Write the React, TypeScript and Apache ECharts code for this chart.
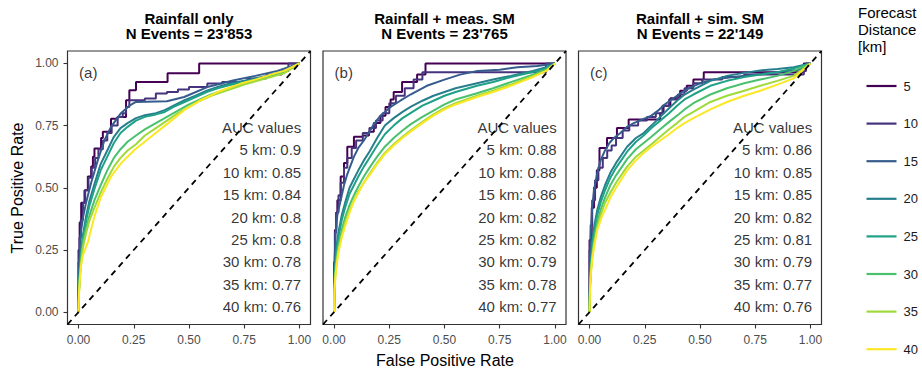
import { useEffect, useRef } from "react";
import * as echarts from "echarts";

// Forecast distances (km) and their viridis colours
const DISTANCES = ["5", "10", "15", "20", "25", "30", "35", "40"];
const COLORS = ["#440154", "#46337E", "#365C8D", "#277F8E", "#1FA187", "#4AC16D", "#9FDA3A", "#FDE725"];

const PANEL_TITLES = ["Rainfall only", "Rainfall + meas. SM", "Rainfall + sim. SM"];
const N_EVENTS = ["23'853", "23'765", "22'149"];
const PANEL_TAGS = ["(a)", "(b)", "(c)"];

const AUC_A = [0.9, 0.85, 0.84, 0.8, 0.8, 0.78, 0.77, 0.76];
const AUC_B = [0.88, 0.88, 0.86, 0.82, 0.82, 0.79, 0.78, 0.77];
const AUC_C = [0.86, 0.85, 0.85, 0.82, 0.81, 0.79, 0.77, 0.76];

const TICKS = [0, 0.25, 0.5, 0.75, 1];

// ROC curves: [false positive rate, true positive rate]
// Panel (a) – rainfall only
const rocA5 = [[0,0],[0,0.25],[0.005,0.36],[0.012,0.44],[0.027,0.49],[0.042,0.545],[0.057,0.585],[0.065,0.625],[0.072,0.658],[0.102,0.70],[0.11,0.725],[0.147,0.778],[0.176,0.785],[0.215,0.852],[0.23,0.892],[0.26,0.925],[0.403,0.961],[0.546,1],[1,1]];
const rocA10 = [[0,0],[0,0.2],[0.004,0.30],[0.01,0.37],[0.02,0.44],[0.03,0.49],[0.045,0.54],[0.06,0.58],[0.075,0.62],[0.09,0.655],[0.11,0.69],[0.13,0.72],[0.15,0.75],[0.177,0.785],[0.20,0.80],[0.215,0.825],[0.23,0.852],[0.30,0.859],[0.35,0.879],[0.40,0.885],[0.45,0.895],[0.50,0.905],[0.583,0.919],[0.65,0.925],[0.764,0.939],[0.85,0.955],[0.92,0.97],[0.95,1],[1,1]];
const rocA15 = [[0,0],[0.002,0.18],[0.006,0.27],[0.012,0.33],[0.02,0.38],[0.034,0.44],[0.057,0.52],[0.087,0.61],[0.117,0.69],[0.147,0.745],[0.192,0.80],[0.23,0.83],[0.26,0.845],[0.40,0.848],[0.478,0.865],[0.583,0.905],[0.704,0.932],[0.80,0.95],[0.90,0.97],[1,1]];
const rocA20 = [[0,0],[0.002,0.10],[0.006,0.18],[0.012,0.25],[0.02,0.31],[0.035,0.39],[0.05,0.45],[0.072,0.515],[0.10,0.595],[0.13,0.65],[0.16,0.705],[0.19,0.74],[0.222,0.76],[0.26,0.78],[0.30,0.792],[0.35,0.80],[0.39,0.812],[0.43,0.83],[0.48,0.852],[0.53,0.87],[0.58,0.89],[0.63,0.905],[0.68,0.918],[0.75,0.93],[0.85,0.95],[0.93,0.97],[1,1]];
const rocA25 = [[0,0],[0.002,0.09],[0.006,0.17],[0.012,0.24],[0.02,0.30],[0.035,0.37],[0.05,0.43],[0.072,0.495],[0.10,0.57],[0.13,0.625],[0.16,0.68],[0.19,0.72],[0.222,0.745],[0.26,0.77],[0.30,0.785],[0.35,0.795],[0.39,0.805],[0.43,0.825],[0.48,0.845],[0.53,0.865],[0.58,0.885],[0.63,0.90],[0.68,0.912],[0.75,0.925],[0.85,0.945],[0.93,0.965],[1,1]];
const rocA30 = [[0,0],[0.002,0.08],[0.006,0.15],[0.012,0.22],[0.02,0.28],[0.035,0.34],[0.05,0.39],[0.072,0.45],[0.10,0.51],[0.13,0.57],[0.16,0.62],[0.19,0.655],[0.222,0.685],[0.26,0.71],[0.30,0.735],[0.35,0.76],[0.40,0.785],[0.45,0.81],[0.50,0.835],[0.55,0.855],[0.60,0.875],[0.65,0.89],[0.70,0.905],[0.75,0.92],[0.85,0.945],[0.93,0.965],[1,1]];
const rocA35 = [[0,0],[0.002,0.08],[0.006,0.14],[0.012,0.20],[0.02,0.26],[0.035,0.32],[0.05,0.37],[0.072,0.42],[0.10,0.48],[0.13,0.535],[0.16,0.585],[0.19,0.62],[0.222,0.65],[0.26,0.675],[0.30,0.71],[0.35,0.74],[0.40,0.77],[0.45,0.80],[0.50,0.825],[0.55,0.85],[0.60,0.87],[0.65,0.885],[0.70,0.90],[0.75,0.915],[0.85,0.94],[0.93,0.96],[1,1]];
const rocA40 = [[0,0],[0.002,0.07],[0.006,0.13],[0.012,0.19],[0.02,0.23],[0.042,0.28],[0.072,0.385],[0.10,0.46],[0.147,0.545],[0.192,0.598],[0.253,0.652],[0.328,0.705],[0.403,0.758],[0.478,0.812],[0.553,0.852],[0.629,0.885],[0.734,0.919],[0.80,0.935],[0.87,0.955],[0.93,0.97],[1,1]];

// Panel (b) – rainfall + measured soil moisture
const rocB5 = [[0,0],[0,0.2],[0.004,0.33],[0.01,0.40],[0.015,0.45],[0.03,0.545],[0.045,0.60],[0.06,0.665],[0.09,0.705],[0.13,0.71],[0.158,0.725],[0.18,0.76],[0.21,0.79],[0.233,0.825],[0.256,0.855],[0.27,0.885],[0.308,0.925],[0.376,0.955],[0.414,1],[1,1]];
const rocB10 = [[0,0],[0,0.2],[0.004,0.32],[0.01,0.40],[0.02,0.47],[0.03,0.52],[0.045,0.58],[0.06,0.62],[0.08,0.66],[0.10,0.69],[0.13,0.72],[0.16,0.74],[0.19,0.77],[0.22,0.80],[0.25,0.84],[0.28,0.87],[0.32,0.90],[0.36,0.935],[0.40,0.965],[0.96,1],[1,1]];
const rocB15 = [[0,0],[0.002,0.2],[0.0075,0.32],[0.015,0.39],[0.03,0.45],[0.045,0.51],[0.06,0.555],[0.075,0.59],[0.09,0.625],[0.11,0.66],[0.135,0.69],[0.16,0.725],[0.18,0.755],[0.21,0.79],[0.256,0.825],[0.30,0.85],[0.346,0.875],[0.42,0.91],[0.50,0.935],[0.57,0.955],[0.65,0.97],[0.75,0.975],[0.83,0.985],[0.92,0.99],[1,1]];
const rocB20 = [[0,0],[0.002,0.12],[0.006,0.2],[0.012,0.27],[0.02,0.32],[0.035,0.39],[0.05,0.44],[0.07,0.50],[0.09,0.535],[0.11,0.57],[0.135,0.61],[0.16,0.645],[0.195,0.70],[0.23,0.75],[0.27,0.78],[0.31,0.805],[0.346,0.825],[0.40,0.85],[0.45,0.87],[0.50,0.885],[0.55,0.90],[0.647,0.92],[0.72,0.935],[0.80,0.95],[0.90,0.97],[0.96,0.985],[1,1]];
const rocB25 = [[0,0],[0.002,0.11],[0.006,0.19],[0.012,0.25],[0.02,0.30],[0.035,0.37],[0.05,0.42],[0.07,0.475],[0.09,0.51],[0.11,0.545],[0.135,0.585],[0.16,0.62],[0.195,0.67],[0.23,0.715],[0.27,0.75],[0.31,0.78],[0.346,0.80],[0.40,0.83],[0.45,0.85],[0.50,0.87],[0.55,0.885],[0.647,0.91],[0.72,0.925],[0.80,0.945],[0.90,0.965],[0.96,0.98],[1,1]];
const rocB30 = [[0,0],[0.002,0.10],[0.006,0.17],[0.012,0.22],[0.02,0.27],[0.035,0.33],[0.05,0.38],[0.07,0.43],[0.09,0.47],[0.11,0.505],[0.135,0.545],[0.16,0.58],[0.195,0.625],[0.23,0.665],[0.27,0.70],[0.31,0.73],[0.346,0.755],[0.40,0.785],[0.45,0.81],[0.50,0.835],[0.55,0.855],[0.647,0.88],[0.72,0.90],[0.80,0.925],[0.90,0.955],[0.96,0.975],[1,1]];
const rocB35 = [[0,0],[0.002,0.09],[0.006,0.15],[0.012,0.20],[0.02,0.25],[0.035,0.31],[0.05,0.36],[0.07,0.41],[0.09,0.45],[0.11,0.485],[0.135,0.52],[0.16,0.555],[0.195,0.60],[0.23,0.64],[0.27,0.675],[0.31,0.705],[0.346,0.73],[0.40,0.765],[0.45,0.795],[0.50,0.82],[0.55,0.84],[0.647,0.87],[0.72,0.89],[0.80,0.915],[0.90,0.95],[0.96,0.97],[1,1]];
const rocB40 = [[0,0],[0.002,0.08],[0.006,0.14],[0.012,0.19],[0.02,0.24],[0.035,0.30],[0.05,0.345],[0.07,0.40],[0.09,0.445],[0.11,0.48],[0.135,0.52],[0.16,0.55],[0.195,0.595],[0.23,0.635],[0.27,0.67],[0.31,0.70],[0.346,0.725],[0.40,0.76],[0.45,0.79],[0.50,0.815],[0.55,0.835],[0.647,0.865],[0.72,0.885],[0.80,0.91],[0.90,0.945],[0.96,0.97],[1,1]];

// Panel (c) – rainfall + simulated soil moisture
const rocC5 = [[0,0],[0,0.29],[0.01,0.42],[0.02,0.50],[0.033,0.57],[0.045,0.66],[0.079,0.70],[0.124,0.74],[0.177,0.775],[0.32,0.80],[0.335,0.83],[0.366,0.86],[0.41,0.89],[0.44,0.91],[0.47,0.935],[0.517,0.965],[0.97,1],[1,1]];
const rocC10 = [[0,0],[0,0.25],[0.005,0.35],[0.012,0.45],[0.025,0.53],[0.04,0.58],[0.06,0.62],[0.08,0.65],[0.10,0.67],[0.12,0.70],[0.15,0.73],[0.18,0.75],[0.22,0.77],[0.26,0.785],[0.30,0.80],[0.33,0.83],[0.36,0.855],[0.40,0.875],[0.43,0.90],[0.47,0.92],[0.51,0.935],[0.60,0.945],[0.70,0.955],[0.97,0.97],[0.98,1],[1,1]];
const rocC15 = [[0,0],[0.002,0.22],[0.006,0.33],[0.012,0.42],[0.02,0.49],[0.035,0.56],[0.05,0.61],[0.07,0.65],[0.09,0.68],[0.11,0.70],[0.14,0.72],[0.17,0.745],[0.20,0.76],[0.24,0.775],[0.28,0.79],[0.31,0.81],[0.34,0.835],[0.38,0.86],[0.42,0.885],[0.46,0.905],[0.50,0.92],[0.56,0.935],[0.65,0.945],[0.75,0.955],[0.85,0.965],[0.95,0.975],[1,1]];
const rocC20 = [[0,0],[0.002,0.12],[0.006,0.2],[0.012,0.28],[0.02,0.34],[0.035,0.41],[0.05,0.46],[0.07,0.51],[0.094,0.56],[0.12,0.60],[0.17,0.665],[0.21,0.70],[0.245,0.72],[0.28,0.75],[0.32,0.785],[0.36,0.82],[0.396,0.85],[0.43,0.875],[0.47,0.895],[0.547,0.93],[0.622,0.95],[0.70,0.962],[0.773,0.972],[0.85,0.978],[0.924,0.985],[1,1]];
const rocC25 = [[0,0],[0.002,0.11],[0.006,0.19],[0.012,0.26],[0.02,0.32],[0.035,0.39],[0.05,0.44],[0.07,0.49],[0.094,0.54],[0.12,0.58],[0.17,0.645],[0.21,0.685],[0.245,0.71],[0.28,0.74],[0.32,0.77],[0.36,0.80],[0.396,0.83],[0.43,0.855],[0.47,0.875],[0.547,0.91],[0.622,0.93],[0.70,0.945],[0.773,0.955],[0.85,0.965],[0.924,0.98],[1,1]];
const rocC30 = [[0,0],[0.002,0.10],[0.006,0.17],[0.012,0.23],[0.02,0.29],[0.035,0.36],[0.05,0.41],[0.07,0.46],[0.094,0.51],[0.12,0.55],[0.17,0.615],[0.21,0.655],[0.245,0.68],[0.28,0.705],[0.32,0.735],[0.36,0.765],[0.396,0.79],[0.43,0.815],[0.47,0.84],[0.547,0.875],[0.622,0.90],[0.70,0.92],[0.773,0.935],[0.85,0.95],[0.924,0.97],[1,1]];
const rocC35 = [[0,0],[0.002,0.09],[0.006,0.16],[0.012,0.22],[0.02,0.27],[0.035,0.34],[0.05,0.39],[0.07,0.44],[0.094,0.48],[0.12,0.52],[0.17,0.585],[0.21,0.625],[0.245,0.65],[0.28,0.675],[0.32,0.705],[0.36,0.735],[0.396,0.76],[0.43,0.785],[0.47,0.805],[0.547,0.845],[0.622,0.87],[0.70,0.89],[0.773,0.91],[0.85,0.93],[0.924,0.95],[1,1]];
const rocC40 = [[0,0],[0.002,0.08],[0.006,0.15],[0.012,0.21],[0.02,0.26],[0.035,0.33],[0.056,0.385],[0.07,0.41],[0.094,0.46],[0.12,0.50],[0.17,0.57],[0.21,0.61],[0.245,0.64],[0.28,0.665],[0.32,0.69],[0.36,0.715],[0.396,0.74],[0.43,0.76],[0.47,0.78],[0.547,0.815],[0.622,0.845],[0.70,0.87],[0.773,0.89],[0.85,0.915],[0.924,0.94],[1,1]];

const PANELS = [
  { curves: [rocA5, rocA10, rocA15, rocA20, rocA25, rocA30, rocA35, rocA40], auc: AUC_A },
  { curves: [rocB5, rocB10, rocB15, rocB20, rocB25, rocB30, rocB35, rocB40], auc: AUC_B },
  { curves: [rocC5, rocC10, rocC15, rocC20, rocC25, rocC30, rocC35, rocC40], auc: AUC_C },
];

// Sparse-event curves are drawn as staircases
const STEPPED = ["5", "10"];

const FONT = "'Liberation Sans', Arial, Helvetica, sans-serif";
const GRID_LEFTS = [67.5, 323, 578.5];
const GRID_TOP = 51;
const GRID_W = 243;
const GRID_H = 273.5;

export default function App() {
  const ref = useRef<HTMLDivElement>(null);

  useEffect(() => {
    if (!ref.current) return;
    const chart = echarts.init(ref.current, undefined, { renderer: "svg" });

    const grid = GRID_LEFTS.map((left) => ({
      left,
      top: GRID_TOP,
      width: GRID_W,
      height: GRID_H,
      show: true,
      borderColor: "#333333",
      borderWidth: 1.2,
      backgroundColor: "transparent",
    }));

    const xAxis = GRID_LEFTS.map((_, i) => ({
      type: "value",
      gridIndex: i,
      min: -0.05,
      max: 1.05,
      axisLine: { show: false, onZero: false },
      splitLine: { show: false },
      axisTick: { show: true, length: 4, customValues: TICKS, lineStyle: { color: "#333333", width: 1.1 } },
      axisLabel: {
        customValues: TICKS,
        formatter: (v: number) => v.toFixed(2),
        color: "#4D4D4D",
        fontSize: 12,
        margin: 9,
        fontFamily: FONT,
      },
    }));

    const yAxis = GRID_LEFTS.map((_, i) => ({
      type: "value",
      gridIndex: i,
      min: -0.05,
      max: 1.05,
      axisLine: { show: false, onZero: false },
      splitLine: { show: false },
      axisTick: { show: i === 0, length: 4, customValues: TICKS, lineStyle: { color: "#333333", width: 1.1 } },
      axisLabel: {
        show: i === 0,
        customValues: TICKS,
        formatter: (v: number) => v.toFixed(2),
        color: "#4D4D4D",
        fontSize: 12,
        margin: 9,
        fontFamily: FONT,
      },
    }));

    const series: any[] = [];
    PANELS.forEach((panel, p) => {
      panel.curves.forEach((data, k) => {
        series.push({
          type: "line",
          name: DISTANCES[k],
          xAxisIndex: p,
          yAxisIndex: p,
          data,
          step: STEPPED.includes(DISTANCES[k]) ? "end" : false,
          symbol: "none",
          silent: true,
          z: 2 + k * 0.01,
          lineStyle: { color: COLORS[k], width: 2 },
          itemStyle: { color: COLORS[k] },
        });
      });

      // AUC annotation block, right-aligned near the top-right corner
      const labels = ["AUC values", ...panel.auc.map((v, k) => `${DISTANCES[k]} km: ${v}`)];
      series.push({
        type: "scatter",
        name: `auc-${p}`,
        xAxisIndex: p,
        yAxisIndex: p,
        silent: true,
        symbolSize: 1,
        itemStyle: { color: "transparent" },
        z: 3,
        data: labels.map((text, k) => ({ value: [1.01, 0.742 - 0.09 * k], text })),
        label: {
          show: true,
          position: "left",
          distance: 0,
          formatter: (d: any) => d.data.text,
          fontSize: 15,
          color: "#000000",
          fontFamily: FONT,
        },
      });

      // Panel tag
      series.push({
        type: "scatter",
        name: `tag-${p}`,
        xAxisIndex: p,
        yAxisIndex: p,
        silent: true,
        symbolSize: 1,
        itemStyle: { color: "transparent" },
        data: [{ value: [0, 0.965], text: PANEL_TAGS[p] }],
        label: {
          show: true,
          position: "right",
          distance: 0,
          formatter: (d: any) => d.data.text,
          fontSize: 15,
          color: "#000000",
          fontFamily: FONT,
        },
      });

      // 1:1 reference line
      series.push({
        type: "line",
        name: `diag-${p}`,
        xAxisIndex: p,
        yAxisIndex: p,
        data: [[-0.05, -0.05], [1.05, 1.05]],
        symbol: "none",
        silent: true,
        z: 4,
        lineStyle: { color: "#000000", width: 1.8, type: [6, 5] },
      });
    });

    const graphic: any[] = [];
    PANEL_TITLES.forEach((t, i) => {
      const cx = GRID_LEFTS[i] + GRID_W / 2;
      const titleStyle = {
        align: "center",
        verticalAlign: "middle",
        fontSize: 15,
        fontWeight: "bold",
        fill: "#000000",
        fontFamily: FONT,
      };
      graphic.push({ type: "text", x: cx, y: 18, style: { ...titleStyle, text: t } });
      graphic.push({ type: "text", x: cx, y: 33.5, style: { ...titleStyle, text: `N Events = ${N_EVENTS[i]}` } });
    });
    graphic.push({
      type: "text",
      x: 17.5,
      y: 188,
      rotation: Math.PI / 2,
      style: { text: "True Positive Rate", align: "center", verticalAlign: "middle", fontSize: 16, fill: "#000000", fontFamily: FONT },
    });
    graphic.push({
      type: "text",
      x: 445,
      y: 360,
      style: { text: "False Positive Rate", align: "center", verticalAlign: "middle", fontSize: 16, fill: "#000000", fontFamily: FONT },
    });
    graphic.push({
      type: "text",
      x: 858,
      y: 4,
      style: { text: "Forecast\nDistance\n[km]", align: "left", verticalAlign: "top", fontSize: 15, lineHeight: 17, fill: "#000000", fontFamily: FONT },
    });

    chart.setOption({
      animation: false,
      backgroundColor: "#ffffff",
      grid,
      xAxis,
      yAxis,
      series,
      graphic,
      legend: {
        data: DISTANCES,
        orient: "vertical",
        left: 861.5,
        top: 74.5,
        icon: "path://M0,0 L30,0 L30,2.2 L0,2.2 Z",
        itemWidth: 30,
        itemHeight: 14,
        itemGap: 24.6,
        selectedMode: false,
        textStyle: { fontSize: 13, color: "#1A1A1A", fontFamily: FONT, padding: [0, 0, 0, 2] },
      },
    });

    return () => chart.dispose();
  }, []);

  return <div ref={ref} style={{ position: "fixed", left: 0, top: 0, width: 922, height: 371 }} />;
}
